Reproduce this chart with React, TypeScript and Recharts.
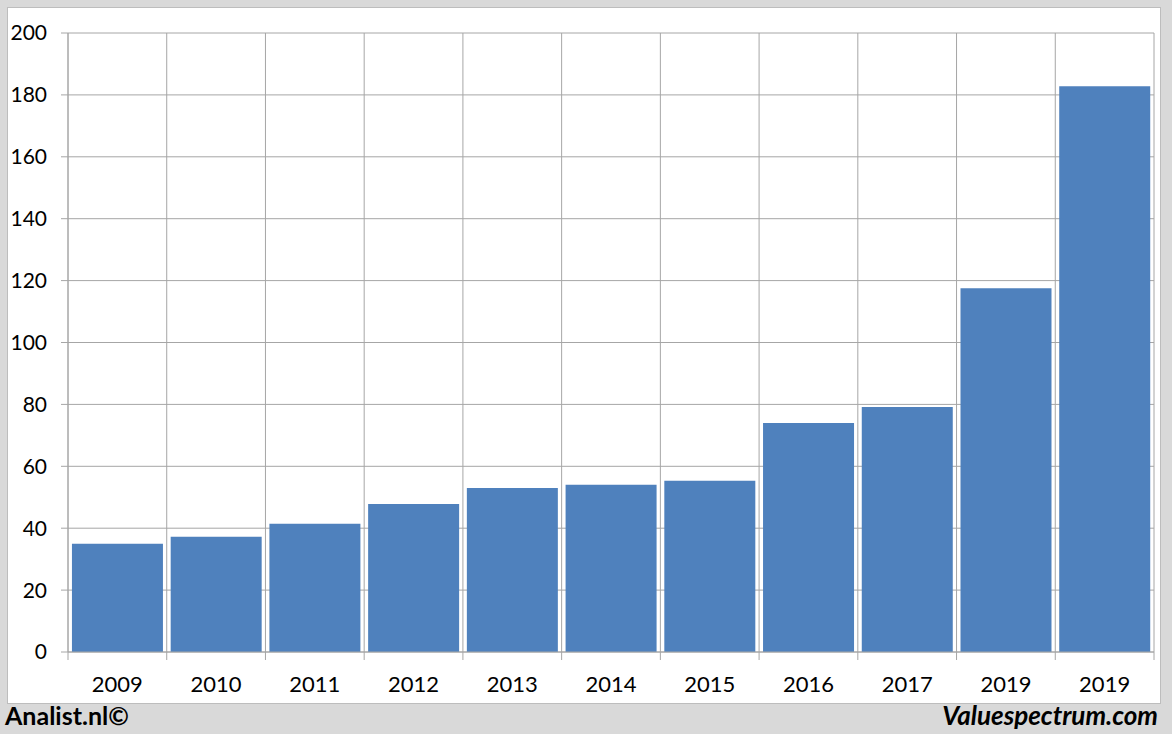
import React from 'react';
import { BarChart, Bar, XAxis, YAxis, CartesianGrid } from 'recharts';

const years = ['2009', '2010', '2011', '2012', '2013', '2014', '2015', '2016', '2017', '2019', '2019'];
const values = [35, 37.2, 41.4, 47.8, 53, 54, 55.3, 74, 79.2, 117.5, 182.8];
const yTicks = [0, 20, 40, 60, 80, 100, 120, 140, 160, 180, 200];

const data = years.map((year, i) => ({ key: i, year, value: values[i] }));

const W = 1172;
const H = 734;
const margin = { top: 33, right: 18, left: 8, bottom: 42 };
const yAxisWidth = 60;
const plotWidth = W - margin.left - margin.right - yAxisWidth;
const band = plotWidth / years.length;

const gridColor = '#a6a6a6';
const font = 'Lato, "Open Sans", sans-serif';

function XTick(props: any) {
  const { x, y, payload, index } = props;
  const isLast = index === years.length - 1;
  return (
    <g>
      <line x1={x - band / 2} x2={x - band / 2} y1={y - 8} y2={y} stroke={gridColor} />
      {isLast && <line x1={x + band / 2} x2={x + band / 2} y1={y - 8} y2={y} stroke={gridColor} />}
      <text x={x} y={y + 32} textAnchor="middle" fontSize={22} fill="#000" fontFamily={font}>
        {years[payload.value]}
      </text>
    </g>
  );
}

export default function App() {
  return (
    <div style={{ position: 'absolute', left: 0, top: 0, width: W, height: H, background: '#d9d9d9', overflow: 'hidden' }}>
      <div
        style={{
          position: 'absolute',
          left: 7,
          top: 7,
          width: 1152,
          height: 695,
          background: '#fff',
          border: '1px solid #bdbdbd',
        }}
      />
      <div style={{ position: 'absolute', left: 0, top: 0 }}>
        <BarChart width={W} height={H} data={data} margin={margin} barCategoryGap="4%">
          <CartesianGrid
            stroke={gridColor}
            verticalCoordinatesGenerator={({ offset }: any) =>
              Array.from({ length: years.length + 1 }, (_, i) => offset.left + (i * offset.width) / years.length)
            }
          />
          <XAxis
            dataKey="key"
            tick={<XTick />}
            tickLine={false}
            axisLine={{ stroke: gridColor }}
            interval={0}
            height={40}
          />
          <YAxis
            domain={[0, 200]}
            ticks={yTicks}
            width={yAxisWidth}
            tickSize={7}
            tickLine={{ stroke: gridColor }}
            axisLine={{ stroke: gridColor }}
            tick={{ fontSize: 21, fill: '#000', fontFamily: font }}
            tickMargin={14}
          />
          <Bar dataKey="value" fill="#4f81bd" isAnimationActive={false} />
        </BarChart>
      </div>
      <div
        style={{
          position: 'absolute',
          left: 5,
          top: 700,
          fontFamily: font,
          fontWeight: 700,
          fontSize: 25,
          color: '#000',
        }}
      >
        Analist.nl©
      </div>
      <div
        style={{
          position: 'absolute',
          right: 14,
          top: 699,
          fontFamily: font,
          fontWeight: 700,
          fontStyle: 'italic',
          fontSize: 26,
          color: '#000',
        }}
      >
        Valuespectrum.com
      </div>
    </div>
  );
}
